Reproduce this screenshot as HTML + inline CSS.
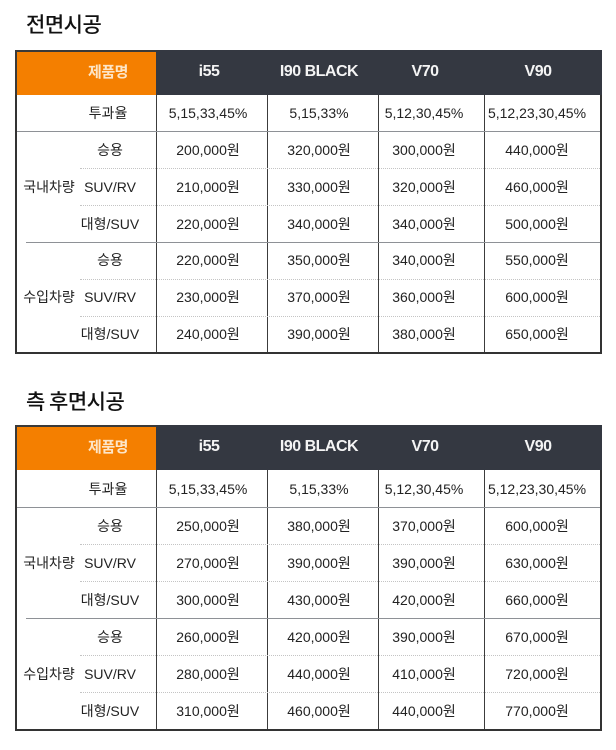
<!DOCTYPE html>
<html><head><meta charset="utf-8">
<style>
*{margin:0;padding:0;box-sizing:border-box}
body{width:616px;height:750px;background:#fff;position:relative;overflow:hidden;font-family:"Liberation Sans","Noto Sans CJK KR",sans-serif;color:#222}
.title{position:absolute;left:26px;font-size:21px;font-weight:500;color:#111;line-height:24px;font-family:"Noto Sans CJK KR","Liberation Sans",sans-serif;letter-spacing:-0.5px}
.tb{position:absolute;left:15px;width:587px}
.frame{position:absolute;left:0;top:0;right:0;bottom:0;border:2px solid #333}
.ho{position:absolute;left:0;top:0;width:141px;height:45px;background:#f47f00;border-top:2px solid #3a3a3a;border-left:2px solid #3a3a3a}
.hd{position:absolute;left:141px;top:0;width:446px;height:45px;background:#343841}
.v{position:absolute;width:1px;background:#3c3c3c}
.h{position:absolute;height:1px;background:#8e9196;right:2px}
.d{position:absolute;height:0;border-top:1px dotted #c4c4c4;left:65px;right:2px}
.t{position:absolute;height:20px;line-height:20px;font-size:14px;text-align:center;white-space:nowrap;transform:translate(-50%,-50%)}
.hh{position:absolute;line-height:20px;font-size:16px;font-weight:bold;color:#f4f4f4;white-space:nowrap;transform:translate(-50%,-50%);letter-spacing:-0.5px}
.hk{color:#fde6c8;font-size:15px;font-family:"Noto Sans CJK KR","Liberation Sans",sans-serif;font-weight:bold}
</style></head><body>

<div class="title" style="top:12px">전면시공</div>

<div class="tb" style="top:50px;height:304px">
  <div class="frame"></div>
  <div class="ho"></div><div class="hd"></div>
  <div class="hh hk" style="left:93px;top:22px">제품명</div>
  <div class="hh" style="left:194px;top:22px">i55</div>
  <div class="hh" style="left:304px;top:22px">I90 BLACK</div>
  <div class="hh" style="left:410px;top:22px">V70</div>
  <div class="hh" style="left:523px;top:22px">V90</div>
  <div class="v" style="left:141px;top:45px;bottom:2px"></div>
  <div class="v" style="left:252px;top:45px;bottom:2px"></div>
  <div class="v" style="left:363px;top:45px;bottom:2px"></div>
  <div class="v" style="left:469px;top:45px;bottom:2px"></div>
  <div class="h" style="left:2px;top:81px"></div>
  <div class="h" style="left:11px;top:192px"></div>
  <div class="d" style="top:118px"></div>
  <div class="d" style="top:155px"></div>
  <div class="d" style="top:229px"></div>
  <div class="d" style="top:266px"></div>

  <div class="t" style="left:93px;top:63px">투과율</div>
  <div class="t" style="left:193px;top:63px">5,15,33,45%</div>
  <div class="t" style="left:304px;top:63px">5,15,33%</div>
  <div class="t" style="left:409px;top:63px">5,12,30,45%</div>
  <div class="t" style="left:522px;top:63px">5,12,23,30,45%</div>

  <div class="t" style="left:34px;top:137px">국내차량</div>
  <div class="t" style="left:95px;top:100px">승용</div>
  <div class="t" style="left:95px;top:137px">SUV/RV</div>
  <div class="t" style="left:95px;top:174px">대형/SUV</div>
  <div class="t" style="left:193px;top:100px">200,000원</div>
  <div class="t" style="left:193px;top:137px">210,000원</div>
  <div class="t" style="left:193px;top:174px">220,000원</div>
  <div class="t" style="left:304px;top:100px">320,000원</div>
  <div class="t" style="left:304px;top:137px">330,000원</div>
  <div class="t" style="left:304px;top:174px">340,000원</div>
  <div class="t" style="left:409px;top:100px">300,000원</div>
  <div class="t" style="left:409px;top:137px">320,000원</div>
  <div class="t" style="left:409px;top:174px">340,000원</div>
  <div class="t" style="left:522px;top:100px">440,000원</div>
  <div class="t" style="left:522px;top:137px">460,000원</div>
  <div class="t" style="left:522px;top:174px">500,000원</div>

  <div class="t" style="left:34px;top:247px">수입차량</div>
  <div class="t" style="left:95px;top:210px">승용</div>
  <div class="t" style="left:95px;top:247px">SUV/RV</div>
  <div class="t" style="left:95px;top:284px">대형/SUV</div>
  <div class="t" style="left:193px;top:210px">220,000원</div>
  <div class="t" style="left:193px;top:247px">230,000원</div>
  <div class="t" style="left:193px;top:284px">240,000원</div>
  <div class="t" style="left:304px;top:210px">350,000원</div>
  <div class="t" style="left:304px;top:247px">370,000원</div>
  <div class="t" style="left:304px;top:284px">390,000원</div>
  <div class="t" style="left:409px;top:210px">340,000원</div>
  <div class="t" style="left:409px;top:247px">360,000원</div>
  <div class="t" style="left:409px;top:284px">380,000원</div>
  <div class="t" style="left:522px;top:210px">550,000원</div>
  <div class="t" style="left:522px;top:247px">600,000원</div>
  <div class="t" style="left:522px;top:284px">650,000원</div>
</div>

<div class="title" style="top:389px">측 후면시공</div>

<div class="tb" style="top:425px;height:306px">
  <div class="frame"></div>
  <div class="ho"></div><div class="hd"></div>
  <div class="hh hk" style="left:93px;top:22px">제품명</div>
  <div class="hh" style="left:194px;top:22px">i55</div>
  <div class="hh" style="left:304px;top:22px">I90 BLACK</div>
  <div class="hh" style="left:410px;top:22px">V70</div>
  <div class="hh" style="left:523px;top:22px">V90</div>
  <div class="v" style="left:141px;top:45px;bottom:2px"></div>
  <div class="v" style="left:252px;top:45px;bottom:2px"></div>
  <div class="v" style="left:363px;top:45px;bottom:2px"></div>
  <div class="v" style="left:469px;top:45px;bottom:2px"></div>
  <div class="h" style="left:2px;top:82px"></div>
  <div class="h" style="left:11px;top:193px"></div>
  <div class="d" style="top:119px"></div>
  <div class="d" style="top:156px"></div>
  <div class="d" style="top:230px"></div>
  <div class="d" style="top:267px"></div>

  <div class="t" style="left:93px;top:64px">투과율</div>
  <div class="t" style="left:193px;top:64px">5,15,33,45%</div>
  <div class="t" style="left:304px;top:64px">5,15,33%</div>
  <div class="t" style="left:409px;top:64px">5,12,30,45%</div>
  <div class="t" style="left:522px;top:64px">5,12,23,30,45%</div>

  <div class="t" style="left:34px;top:138px">국내차량</div>
  <div class="t" style="left:95px;top:101px">승용</div>
  <div class="t" style="left:95px;top:138px">SUV/RV</div>
  <div class="t" style="left:95px;top:175px">대형/SUV</div>
  <div class="t" style="left:193px;top:101px">250,000원</div>
  <div class="t" style="left:193px;top:138px">270,000원</div>
  <div class="t" style="left:193px;top:175px">300,000원</div>
  <div class="t" style="left:304px;top:101px">380,000원</div>
  <div class="t" style="left:304px;top:138px">390,000원</div>
  <div class="t" style="left:304px;top:175px">430,000원</div>
  <div class="t" style="left:409px;top:101px">370,000원</div>
  <div class="t" style="left:409px;top:138px">390,000원</div>
  <div class="t" style="left:409px;top:175px">420,000원</div>
  <div class="t" style="left:522px;top:101px">600,000원</div>
  <div class="t" style="left:522px;top:138px">630,000원</div>
  <div class="t" style="left:522px;top:175px">660,000원</div>

  <div class="t" style="left:34px;top:249px">수입차량</div>
  <div class="t" style="left:95px;top:212px">승용</div>
  <div class="t" style="left:95px;top:249px">SUV/RV</div>
  <div class="t" style="left:95px;top:286px">대형/SUV</div>
  <div class="t" style="left:193px;top:212px">260,000원</div>
  <div class="t" style="left:193px;top:249px">280,000원</div>
  <div class="t" style="left:193px;top:286px">310,000원</div>
  <div class="t" style="left:304px;top:212px">420,000원</div>
  <div class="t" style="left:304px;top:249px">440,000원</div>
  <div class="t" style="left:304px;top:286px">460,000원</div>
  <div class="t" style="left:409px;top:212px">390,000원</div>
  <div class="t" style="left:409px;top:249px">410,000원</div>
  <div class="t" style="left:409px;top:286px">440,000원</div>
  <div class="t" style="left:522px;top:212px">670,000원</div>
  <div class="t" style="left:522px;top:249px">720,000원</div>
  <div class="t" style="left:522px;top:286px">770,000원</div>
</div>

</body></html>
